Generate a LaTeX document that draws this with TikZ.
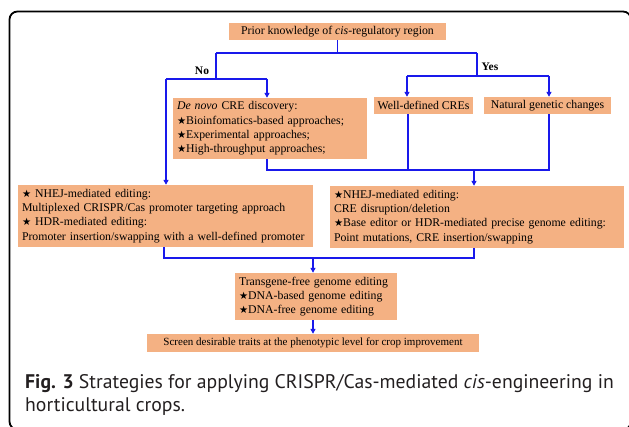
\documentclass[tikz,border=0pt]{standalone}
\usepackage{fontspec}
\setmainfont{Liberation Serif}
\newfontfamily\symf{DejaVu Sans}
\newfontfamily\capf{PT Sans}
\usetikzlibrary{arrows.meta}
\definecolor{peach}{RGB}{244,177,131}
\definecolor{lineblue}{RGB}{25,25,235}
\definecolor{capgray}{RGB}{35,31,32}
\newcommand\st{{\symf\fontsize{10.2}{10}\selectfont ★}}
\tikzset{
  box/.style={fill=peach, inner xsep=4pt, inner ysep=0pt, font=\fontsize{11.8}{14.3}\selectfont},
  onebox/.style={box, align=center},
  multibox/.style={box, align=left},
  ln/.style={draw=lineblue, line width=1.5pt},
  arr/.style={ln, -{Triangle[length=5pt,width=5pt]}},
  yn/.style={font=\fontsize{11.5}{12}\selectfont\bfseries, inner sep=0pt},
  captext/.style={font=\capf\fontsize{19.7}{23}\selectfont, text=capgray, inner sep=0pt, anchor=base west}
}
\begin{document}
\begin{tikzpicture}[x=1pt,y=-1pt]
\useasboundingbox (0,0) rectangle (629,427);
\draw[line width=1.8pt, rounded corners=8pt] (9.5,11.5) rectangle (631,429.5);

\node[onebox, minimum width=217pt, minimum height=17pt] (top) at (337.5,31.5) {Prior knowledge of \textit{cis}-regulatory region};
\node[multibox, minimum width=194pt, minimum height=61pt, text width=186pt] (denovo) at (270,128.5) {\textit{De novo} CRE discovery:\\\st Bioinfomatics-based approaches;\\\st Experimental approaches;\\\st High-throughput approaches;};
\node[onebox, minimum width=99pt, minimum height=17pt] (welldef) at (423.5,105.5) {Well-defined CREs};
\node[onebox, minimum width=127pt, minimum height=17pt] (natural) at (547.5,105.5) {Natural genetic changes};
\node[multibox, minimum width=295pt, minimum height=62pt, text width=287pt] (leftedit) at (165.5,216) {\st{} NHEJ-mediated editing:\\Multiplexed CRISPR/Cas promoter targeting approach\\\st{} HDR-mediated editing:\\Promoter insertion/swapping with a well-defined promoter};
\node[multibox, minimum width=294pt, minimum height=62pt, text width=286pt] (rightedit) at (477,217) {\st NHEJ-mediated editing:\\CRE disruption/deletion\\\st Base editor or HDR-mediated precise genome editing:\\Point mutations, CRE insertion/swapping};
\node[multibox, minimum width=162pt, minimum height=47pt, text width=154pt] (transgene) at (316,296.5) {Transgene-free genome editing\\\st DNA-based genome editing\\\st DNA-free genome editing};
\node[onebox, minimum width=332pt, minimum height=18pt, font=\fontsize{11}{13}\selectfont] (screen) at (313,343) {Screen desirable traits at the phenotypic level for crop improvement};

\node[yn] (no) at (202,71) {No};
\node[yn] (yes) at (490,67) {Yes};

\coordinate (b1) at (216,53); \coordinate (b2) at (477,53);
\draw[ln] (top.south) -- (top.south |- b1);
\draw[ln] (b1) -- (b2);
\coordinate (n1) at (216,79); \coordinate (n2) at (166,79); \coordinate (n3) at (267,79);
\draw[ln] (b1) -- (n1);
\draw[ln] (n2) -- (n3);
\draw[arr] (n3) -- (n3 |- denovo.north);
\draw[arr] (n2) -- (n2 |- leftedit.north);
\coordinate (y1) at (477,76); \coordinate (y2) at (407,76); \coordinate (y3) at (549,76);
\draw[ln] (b2) -- (y1);
\draw[ln] (y2) -- (y3);
\draw[arr] (y2) -- (y2 |- welldef.north);
\draw[arr] (y3) -- (y3 |- natural.north);
\coordinate (m1) at (267,170); \coordinate (m2) at (408,170); \coordinate (m3) at (549,170); \coordinate (m4) at (474,170);
\draw[ln] (m1 |- denovo.south) -- (m1) -- (m3) -- (m3 |- natural.south);
\draw[ln] (m2 |- welldef.south) -- (m2);
\draw[arr] (m4) -- (m4 |- rightedit.north);
\coordinate (k1) at (164,258); \coordinate (k2) at (474,258); \coordinate (k3) at (313,258);
\draw[ln] (k1 |- leftedit.south) -- (k1) -- (k2) -- (k2 |- rightedit.south);
\draw[arr] (k3) -- (k3 |- transgene.north);
\draw[arr] (transgene.south -| k3) -- (k3 |- screen.north);

\node[captext] (cap1) at (25,388.5) {\textbf{Fig. 3} Strategies for applying CRISPR/Cas-mediated \textit{cis}-engineering in};
\node[captext] (cap2) at (25,411) {horticultural crops.};
\end{tikzpicture}
\end{document}
